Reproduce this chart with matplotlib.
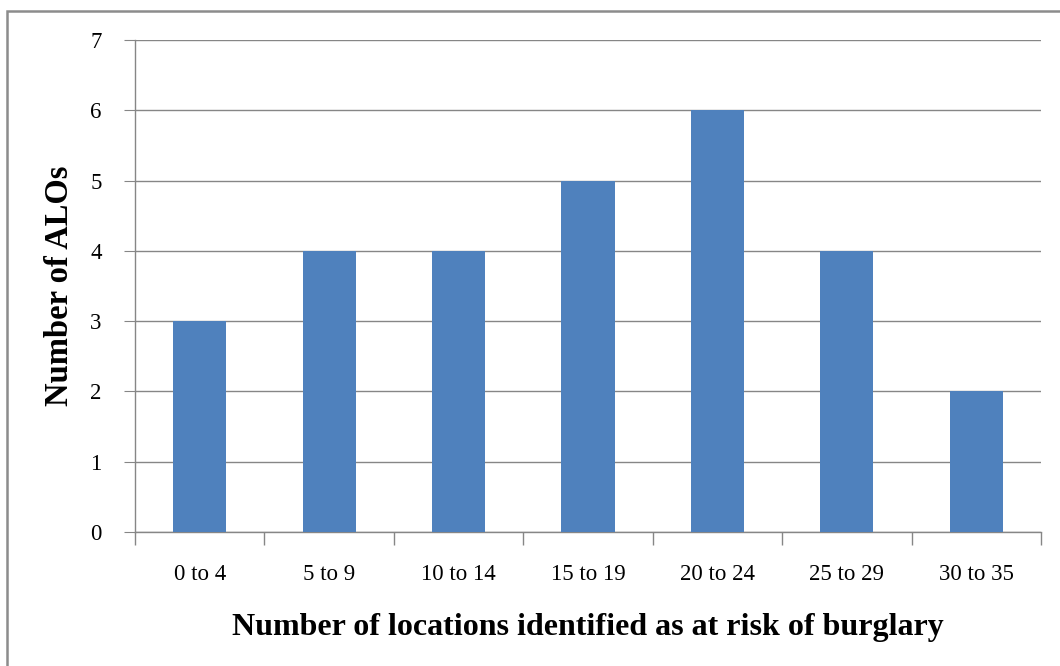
import matplotlib
matplotlib.use("Agg")
import matplotlib.pyplot as plt
from matplotlib.patches import Rectangle

categories = ["0 to 4", "5 to 9", "10 to 14", "15 to 19", "20 to 24", "25 to 29", "30 to 35"]
values = [3, 4, 4, 5, 6, 4, 2]
yticks = [0, 1, 2, 3, 4, 5, 6, 7]

plt.rcParams['font.family'] = ['Liberation Serif', 'DejaVu Serif']

W, H = 1060, 666
fig = plt.figure(figsize=(W / 100, H / 100), dpi=100)
fig.patch.set_facecolor('white')

# outer frame (right and bottom edges fall outside the image)
fig.add_artist(Rectangle((7 / W, -10 / H), (W + 10) / W, (H - 11 + 10) / H, transform=fig.transFigure,
                         fill=False, edgecolor='#8c8c8c', linewidth=1.8))

left, right, top, bottom = 135, 1041, 40, 532
ax = fig.add_axes([left / W, 1 - bottom / H, (right - left) / W, (bottom - top) / H])

x = list(range(len(categories)))
ax.bar(x, values, width=0.41, color='#4F81BD', zorder=3)
ax.set_xlim(-0.5, len(categories) - 0.5)
ax.set_ylim(0, 7)
ax.set_yticks(yticks)
ax.set_yticklabels([str(t) for t in yticks], fontsize=16.5)
ax.set_xticks(x)
ax.set_xticklabels(categories, fontsize=16.5)
ax.tick_params(axis='x', length=0, pad=23)
ax.tick_params(axis='y', length=8, color='#868686', pad=16)
# category boundary ticks
ax.set_xticks([i - 0.5 for i in range(len(categories) + 1)], minor=True)
ax.tick_params(axis='x', which='minor', length=9, color='#868686', width=1)

ax.grid(axis='y', color='#868686', linewidth=1, zorder=0)
for s in ['top', 'right']:
    ax.spines[s].set_visible(False)
for s in ['left', 'bottom']:
    ax.spines[s].set_color('#868686')
    ax.spines[s].set_linewidth(1)

fig.text(59 / W, 1 - 286 / H, "Number of ALOs", fontsize=23.5, fontweight='bold',
         rotation=90, ha='center', va='center')
fig.text(588 / W, 1 - 627 / H, "Number of locations identified as at risk of burglary",
         fontsize=23, fontweight='bold', ha='center', va='center')

fig.savefig("out.png", dpi=100)
